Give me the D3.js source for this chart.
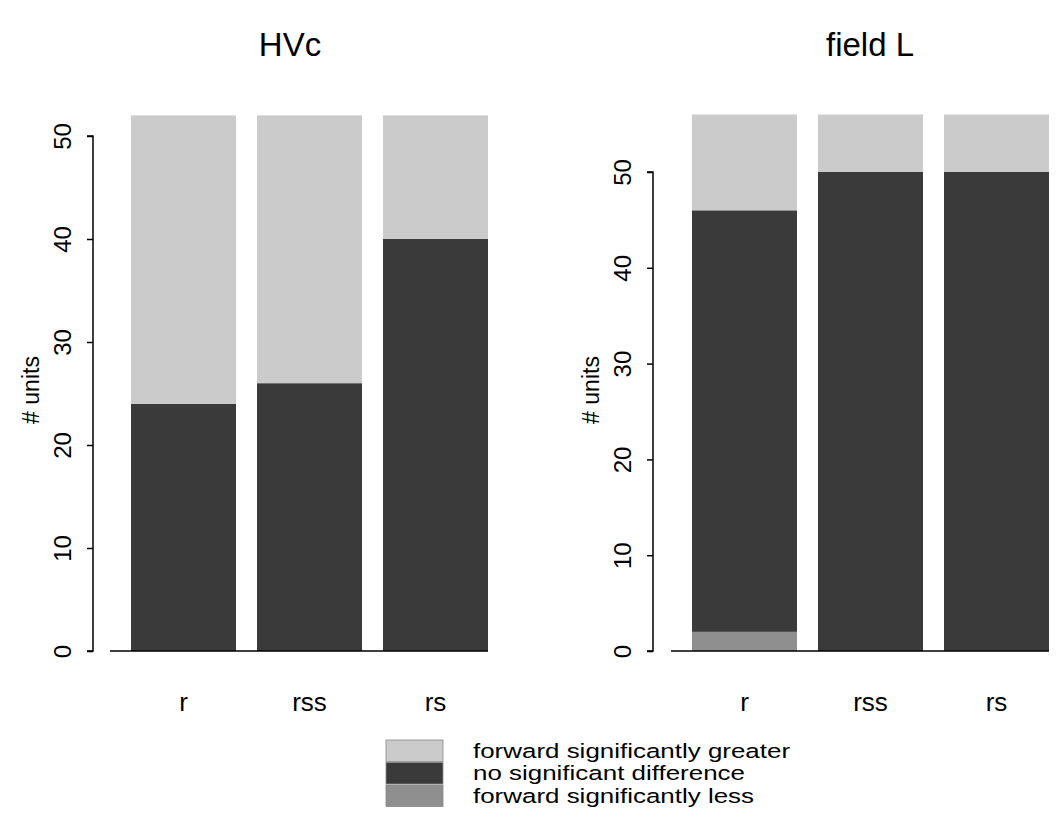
<!DOCTYPE html>
<html><head><meta charset="utf-8">
<script src="https://cdn.jsdelivr.net/npm/d3@7"></script>
<style>body{margin:0;background:#fff}svg{font-family:"Liberation Sans",Arial,sans-serif}</style>
</head><body><svg id="c" width="1062" height="821"></svg>
<script>
const categories = ["r", "rss", "rs"];
const seriesNames = ["forward significantly less", "no significant difference", "forward significantly greater"];
const hvcLess = [0, 0, 0];
const hvcNoDiff = [24, 26, 40];
const hvcGreater = [28, 26, 12];
const fieldLLess = [2, 0, 0];
const fieldLNoDiff = [44, 50, 50];
const fieldLGreater = [10, 6, 6];
const yTicks = [0, 10, 20, 30, 40, 50];
const colors = ["#8f8f8f", "#3a3a3a", "#cbcbcb"];

const svg = d3.select("#c");

function panel(opts) {
  const {title, less, nodiff, greater, xRange, yRange, axisX, titleX} = opts;
  const g = svg.append("g");
  const x = d3.scaleBand().domain(categories).range(xRange).paddingInner(1/6).paddingOuter(1/6);
  const y = d3.scaleLinear().domain([0, 50]).range(yRange);
  const data = categories.map((c, i) => ({c, v: [less[i], nodiff[i], greater[i]]}));
  const stack = d3.stack().keys([0, 1, 2]).value((d, k) => d.v[k]);
  const layers = stack(data);
  layers.forEach((layer, k) => {
    g.selectAll(null).data(layer).join("rect")
      .attr("x", d => x(d.data.c))
      .attr("width", x.bandwidth())
      .attr("y", d => y(d[1]))
      .attr("height", d => y(d[0]) - y(d[1]))
      .attr("fill", colors[k]);
  });
  // baseline
  g.append("line").attr("x1", xRange[0]).attr("x2", x(categories[2]) + x.bandwidth())
    .attr("y1", y(0)).attr("y2", y(0)).attr("stroke", "#000").attr("stroke-width", 1.5);
  // y axis
  const ax = g.append("g").attr("transform", `translate(${axisX},0)`)
    .call(d3.axisLeft(y).tickValues(yTicks).tickSize(6).tickFormat(d3.format("d")));
  ax.attr("font-family", null).attr("font-size", null);
  ax.select(".domain").attr("d", `M-6,${y(0)}H0V${y(50)}H-6`).attr("stroke-width", 1.5);
  ax.selectAll(".tick line").attr("stroke-width", 1.5);
  ax.selectAll(".tick text")
    .attr("font-size", 24).attr("fill", "#000")
    .attr("text-anchor", "middle").attr("dy", null)
    .attr("x", 0).attr("y", 0)
    .attr("transform", "translate(-31,0) rotate(-90)")
    .attr("dominant-baseline", "central");
  // y label
  g.append("text").attr("transform", `translate(${axisX - 62},390) rotate(-90)`)
    .attr("text-anchor", "middle").attr("dominant-baseline", "central").attr("font-size", 23).text("# units");
  // category labels
  g.selectAll(null).data(categories).join("text")
    .attr("x", d => x(d) + x.bandwidth()/2).attr("y", 711)
    .attr("text-anchor", "middle").attr("font-size", 26).text(d => d);
  // title
  g.append("text").attr("x", titleX).attr("y", 56).attr("text-anchor", "middle")
    .attr("font-size", 33).text(title);
}

panel({title: "HVc", less: hvcLess, nodiff: hvcNoDiff, greater: hvcGreater,
  xRange: [110, 509], yRange: [651, 136], axisX: 93, titleX: 290});
panel({title: "field L", less: fieldLLess, nodiff: fieldLNoDiff, greater: fieldLGreater,
  xRange: [671, 1070], yRange: [651, 172], axisX: 653, titleX: 870});

// legend
const legendOrder = [2, 1, 0];
const lg = svg.append("g");
legendOrder.forEach((k, i) => {
  lg.append("rect").attr("x", 386).attr("y", 740 + i*22.5).attr("width", 57).attr("height", 21.5)
    .attr("fill", colors[k]).attr("stroke", "#888").attr("stroke-width", 0.8);
  lg.append("text").attr("transform", `translate(473,${751 + i*22.5}) scale(1.33,1)`)
    .attr("dominant-baseline", "central")
    .attr("font-size", 19.5).text(seriesNames[k]);
});
</script></body></html>
